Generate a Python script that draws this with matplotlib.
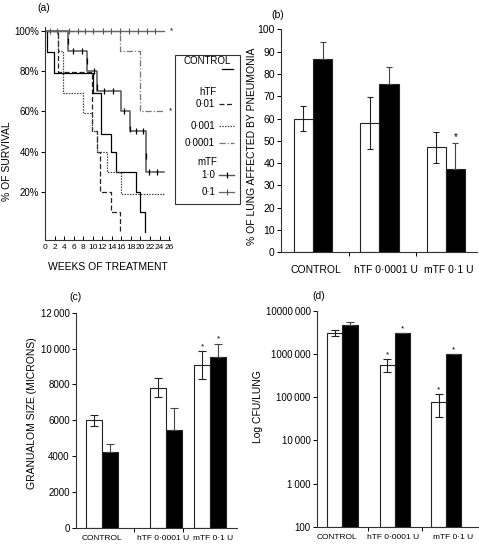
import matplotlib
matplotlib.use("Agg")
import matplotlib.pyplot as plt
from matplotlib.lines import Line2D
from matplotlib.patches import Rectangle
import numpy as np

plt.rcParams['font.family'] = ['Liberation Sans', 'DejaVu Sans']

W, H = 479, 544

# (a) survival, step curves: week of drop and % surviving after it
ctrl_t = [0, 0.5, 1.9, 10.1, 11.8, 13.8, 14.9, 19.0, 19.9, 21.0]
ctrl_s = [100, 89.5, 79, 69, 49, 40, 30, 20, 10, 0]
h01_t = [0, 2.8, 9.8, 10.8, 11.5, 13.8, 15.7]
h01_s = [100, 79.5, 50, 40, 20, 10, 0]
h001_t = [0, 2.7, 3.8, 7.9, 9.8, 10.9, 12.9, 15.9, 25]
h001_s = [100, 90, 69, 59, 50, 40, 30, 19, 19]
h0001_t = [0, 15.8, 19.9, 25]
h0001_s = [100, 90, 60, 60]
m10_t = [0, 4.9, 8.9, 10.8, 15.9, 17.8, 21.1, 25]
m10_s = [100, 90, 80, 70, 60, 50, 30, 30]
m01_t = [0, 25]
m01_s = [100, 100]
# censor marks
m10_cens_t = [4.9, 5.8, 7.7, 8.9, 10.3, 10.8, 12.4, 14.2, 16.6, 17.8, 19.1, 20.5, 21.1, 21.7, 23.5]
m10_cens_s = [95, 90, 90, 85, 80, 72, 70, 70, 60, 51, 50, 50, 38, 30, 30]
m01_cens_t = [1.0, 2.6, 5.1, 6.9, 8.4, 10.1, 12.1, 13.8, 15.7, 17.6, 19.4, 21.3, 23.1]
m01_cens_s = [100] * 13
weeks = list(range(0, 27, 2))
surv_ticks = [20, 40, 60, 80, 100]

# bar panels
groups = ['CONTROL', 'hTF 0·0001 U', 'mTF 0·1 U']

pneu_open = [60, 58, 47]
pneu_open_err = [5.5, 11.7, 7.0]
pneu_solid = [86.5, 75.5, 37.4]
pneu_solid_err = [8.0, 7.5, 11.8]
pneu_star_open = [False, False, False]
pneu_star_solid = [False, False, True]

gran_open = [6000, 7800, 9080]
gran_open_err = [300, 530, 760]
gran_solid = [4220, 5450, 9500]
gran_solid_err = [450, 1250, 780]
gran_star_open = [False, False, True]
gran_star_solid = [False, False, True]

cfu_open = [3.1e6, 5.6e5, 7.5e4]
cfu_open_lo = [2.6e6, 3.9e5, 3.4e4]
cfu_open_hi = [3.6e6, 7.5e5, 1.15e5]
cfu_solid = [4.6e6, 3.1e6, 1.0e6]
cfu_solid_hi = [5.6e6, 3.1e6, 1.0e6]
cfu_star_open = [False, True, True]
cfu_star_solid = [False, True, True]

fig = plt.figure(figsize=(W / 100, H / 100), dpi=100)


def px_axes(l, t, r, b):
    return fig.add_axes([l / W, 1 - b / H, (r - l) / W, (b - t) / H])


def fx(x):
    return x / W


def fy(y):
    return 1 - y / H


def clean(ax):
    for s in ['top', 'right']:
        ax.spines[s].set_visible(False)
    for s in ['left', 'bottom']:
        ax.spines[s].set_linewidth(0.8)
        ax.spines[s].set_color('#333333')


# ---------------- (a)
ax = px_axes(45, 26.6, 170, 240)
clean(ax)
ax.step(ctrl_t, ctrl_s, where='post', color='black', lw=0.9)
ax.step(h01_t, h01_s, where='post', color='#222222', lw=0.9, dashes=(4, 2))
ax.step(h001_t, h001_s, where='post', color='#444444', lw=0.9, dashes=(1.2, 1))
ax.step(h0001_t, h0001_s, where='post', color='#777777', lw=0.9, dashes=(5, 1.5, 1, 1.5))
ax.step(m10_t, m10_s, where='post', color='#555555', lw=1.1)
ax.step(m01_t, m01_s, where='post', color='#666666', lw=1.0)
ax.plot(m10_cens_t, m10_cens_s, ls='none', marker='|', ms=4, mew=0.9, color='black')
ax.plot(m01_cens_t, m01_cens_s, ls='none', marker='|', ms=5, mew=0.8, color='#555555')
ax.text(26.6, m01_s[-1], '*', fontsize=6, ha='center', va='center', clip_on=False)
ax.text(26.3, h0001_s[-1], '*', fontsize=6, ha='center', va='center', clip_on=False)
ax.set_xlim(0, 26.2)
ax.set_ylim(-3.8, 102)
ax.set_xticks(weeks)
ax.set_xticklabels([str(w) for w in weeks], fontsize=6)
ax.set_yticks(surv_ticks)
ax.set_yticklabels([f'{v}%' for v in surv_ticks], fontsize=7)
ax.tick_params(axis='x', direction='in', length=3, pad=3, width=0.7)
ax.tick_params(axis='y', direction='out', length=3, pad=1, width=0.7)
ax.set_xlabel('WEEKS OF TREATMENT', fontsize=7.5, va='center')
ax.xaxis.set_label_coords(0.5, -0.127)
ax.set_ylabel('% OF SURVIVAL', fontsize=7.5, va='center')
ax.yaxis.set_label_coords(-0.30, 0.37)

# legend box for (a)
fig.add_artist(Rectangle((fx(175), fy(204)), fx(240) - fx(175), fy(55) - fy(204),
                         transform=fig.transFigure, fill=False, lw=0.8, ec='#333333'))
fig.text(fx(207), fy(61), 'CONTROL', fontsize=7, ha='center', va='center')
fig.add_artist(Line2D([fx(222), fx(233)], [fy(69), fy(69)], transform=fig.transFigure,
                      color='black', lw=0.9))
fig.text(fx(208), fy(92), 'hTF', fontsize=7, ha='center', va='center')
leg_rows = [('0·01', 104, dict(color='#222222', dashes=(4, 2))),
            ('0·001', 126, dict(color='#444444', dashes=(1.2, 1))),
            ('0·0001', 143, dict(color='#777777', dashes=(5, 1.5, 1, 1.5)))]
for lab, yy, st in leg_rows:
    fig.text(fx(215), fy(yy), lab, fontsize=7, ha='right', va='center')
    fig.add_artist(Line2D([fx(219), fx(234)], [fy(yy), fy(yy)], transform=fig.transFigure,
                          lw=0.9, **st))
fig.text(fx(207), fy(162), 'mTF', fontsize=7, ha='center', va='center')
fig.text(fx(215), fy(175), '1·0', fontsize=7, ha='right', va='center')
fig.add_artist(Line2D([fx(219), fx(234)], [fy(175), fy(175)], transform=fig.transFigure,
                      color='#555555', lw=1.0))
fig.add_artist(Line2D([fx(226.5)], [fy(175)], transform=fig.transFigure, ls='none',
                      marker='|', ms=4, mew=0.9, color='black'))
fig.text(fx(215), fy(192), '0·1', fontsize=7, ha='right', va='center')
fig.add_artist(Line2D([fx(219), fx(234)], [fy(192), fy(192)], transform=fig.transFigure,
                      color='#666666', lw=0.9))
fig.add_artist(Line2D([fx(226.5)], [fy(192)], transform=fig.transFigure, ls='none',
                      marker='|', ms=5, mew=0.8, color='#555555'))


def bar_panel(ax, xc, bw, opn, opn_err, sol, sol_err, st_o, st_s, capsize, star_fs, log=False):
    xc = np.asarray(xc)
    kw = dict(ec='#222222', lw=0.8, zorder=2)
    bottom = ax.get_ylim()[0] if log else 0
    ax.bar(xc - bw / 2, np.asarray(opn) - bottom, bw, bottom=bottom, color='white', **kw)
    ax.bar(xc + bw / 2, np.asarray(sol) - bottom, bw, bottom=bottom, color='black', **kw)
    ax.errorbar(xc - bw / 2, opn, yerr=opn_err, fmt='none', ecolor='#222222', elinewidth=0.8,
                capsize=capsize, capthick=0.8, zorder=3)
    ax.errorbar(xc + bw / 2, sol, yerr=sol_err, fmt='none', ecolor='#444444', elinewidth=0.8,
                capsize=capsize, capthick=0.8, zorder=3)
    up_o = np.asarray(opn) + np.asarray(opn_err)[-1] if np.ndim(opn_err) == 2 else np.asarray(opn) + np.asarray(opn_err)
    up_s = np.asarray(sol) + (np.asarray(sol_err)[-1] if np.ndim(sol_err) == 2 else np.asarray(sol_err))
    for i in range(len(xc)):
        if st_o[i]:
            ax.annotate('*', (xc[i] - bw / 2, up_o[i]), xytext=(0, 0.5), textcoords='offset points',
                        ha='center', va='bottom', fontsize=star_fs)
        if st_s[i]:
            ax.annotate('*', (xc[i] + bw / 2, up_s[i]), xytext=(0, 0.5), textcoords='offset points',
                        ha='center', va='bottom', fontsize=star_fs)


# ---------------- (b)
ax = px_axes(281, 29.3, 477, 252.3)
clean(ax)
ax.set_xlim(-0.48, 2.47)
ax.set_ylim(0, 100)
bar_panel(ax, [0, 1, 2], 0.29, pneu_open, pneu_open_err, pneu_solid,
          [np.zeros(3), pneu_solid_err], pneu_star_open, pneu_star_solid, 2.5, 7)
ax.set_yticks(range(0, 101, 10))
ax.tick_params(axis='y', direction='out', length=3, pad=1.5, labelsize=7.5, width=0.7)
ax.set_xticks([0.05, 1.1, 2.05])
ax.set_xticklabels(groups, fontsize=7.5)
ax.set_xticks([0.55, 1.55], minor=True)
ax.tick_params(axis='x', which='major', length=0, pad=9)
ax.tick_params(axis='x', which='minor', direction='out', length=3, width=0.7)
ax.set_ylabel('% OF LUNG AFFECTED BY PNEUMONIA', fontsize=7.5, va='center')
ax.yaxis.set_label_coords(-0.148, 0.477)

# ---------------- (c)
ax = px_axes(76, 312.7, 237, 527.7)
clean(ax)
ax.set_xlim(-0.41, 2.11)
ax.set_ylim(0, 12000)
bar_panel(ax, [0, 0.995, 1.69], 0.25, gran_open, gran_open_err, gran_solid,
          [np.zeros(3), gran_solid_err], gran_star_open, gran_star_solid, 3, 6)
gt = list(range(0, 12001, 2000))
ax.set_yticks(gt)
ax.set_yticklabels([f'{v // 1000}\u2009000' if v >= 10000 else str(v) for v in gt])
ax.tick_params(axis='y', direction='out', length=3, pad=1.5, labelsize=7, width=0.7)
ax.set_xticks([0, 0.96, 1.73])
ax.set_xticklabels(groups, fontsize=6)
ax.set_xticks([0.5, 1.26], minor=True)
ax.tick_params(axis='x', which='major', length=0, pad=5)
ax.tick_params(axis='x', which='minor', direction='out', length=3, width=0.7)
ax.set_ylabel('GRANUALOM SIZE (MICRONS)', fontsize=7.5, va='center')
ax.yaxis.set_label_coords(-0.273, 0.533)

# ---------------- (d)
ax = px_axes(317, 310.7, 479, 526.7)
clean(ax)
ax.set_yscale('log')
ax.set_xlim(-0.49, 2.63)
ax.set_ylim(100, 1e7)
cfu_open_e = [np.asarray(cfu_open) - np.asarray(cfu_open_lo), np.asarray(cfu_open_hi) - np.asarray(cfu_open)]
cfu_solid_e = [np.zeros(3), np.asarray(cfu_solid_hi) - np.asarray(cfu_solid)]
bar_panel(ax, [0, 1.01, 2.0], 0.29, cfu_open, cfu_open_e, cfu_solid, cfu_solid_e,
          cfu_star_open, cfu_star_solid, 3, 6, log=True)
dt = [1e2, 1e3, 1e4, 1e5, 1e6, 1e7]
ax.set_yticks(dt)
ax.set_yticklabels(['100', '1\u2009000', '10\u2009000', '100\u2009000', '1000\u2009000', '10000\u2009000'])
ax.yaxis.set_minor_locator(matplotlib.ticker.NullLocator())
ax.tick_params(axis='y', direction='out', length=3, pad=1.5, labelsize=7, width=0.7)
ax.set_xticks([-0.1, 0.97, 2.13])
ax.set_xticklabels(groups, fontsize=6)
ax.set_xticks([0.49, 1.53], minor=True)
ax.tick_params(axis='x', which='major', length=0, pad=5)
ax.tick_params(axis='x', which='minor', direction='out', length=3, width=0.7)
ax.set_ylabel('Log CFU/LUNG', fontsize=7.5, va='center')
ax.yaxis.set_label_coords(-0.366, 0.554)

# panel letters
for lab, x, y in [('(a)', 44, 8), ('(b)', 278, 15), ('(c)', 75, 297), ('(d)', 319, 296)]:
    fig.text(fx(x), fy(y), lab, fontsize=7.5, ha='center', va='center')

fig.savefig('out.png', dpi=100)
